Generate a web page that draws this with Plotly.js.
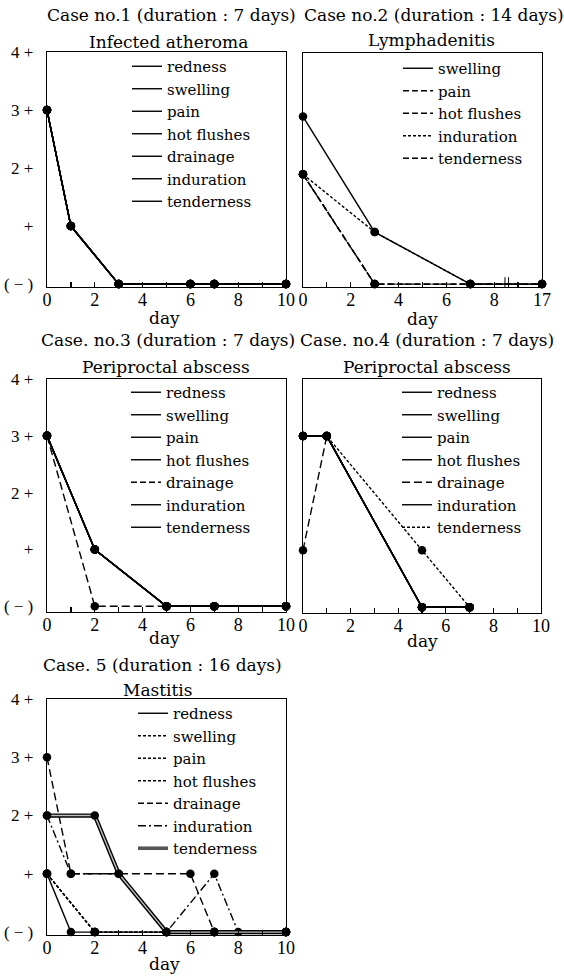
<!DOCTYPE html>
<html><head><meta charset="utf-8">
<script src="https://cdn.plot.ly/plotly-3.0.1.min.js"></script>
<style>html,body{margin:0;padding:0;background:#fff;} #chart{width:564px;height:977px;}</style>
</head><body><div id="chart"></div>
<script>
// ---------- DATA ----------
const xTickVals = [0, 2, 4, 6, 8, 10];
const xTickText = ['0', '2', '4', '6', '8', '10'];
const xTickTextCase2 = ['0', '2', '4', '6', '8', '17'];
const yTickVals = [0, 1, 2, 3, 4];
const yTickText = ['( − )', '+', '2 +', '3 +', '4 +'];

// Case 1: Infected atheroma (all symptoms share one course)
const c1Symptoms = ['redness', 'swelling', 'pain', 'hot flushes', 'drainage', 'induration', 'tenderness'];
const c1Days = [0, 1, 3, 6, 7, 10];
const c1Score = [3, 1, 0, 0, 0, 0];

// Case 2: Lymphadenitis (day 17 lies beyond an axis break after day 8)
const c2Symptoms = ['swelling', 'pain', 'hot flushes', 'induration', 'tenderness'];
const c2Days = [0, 3, 7, 17];
const c2Swelling = [2.9, 0.9, 0, 0];
const c2Pain = [1.9, 0, 0, 0];
const c2HotFlushes = [1.9, 0, 0, 0];
const c2Induration = [1.9, 0.9, 0, 0];
const c2Tenderness = [1.9, 0, 0, 0];

// Case 3: Periproctal abscess
const c3Symptoms = ['redness', 'swelling', 'pain', 'hot flushes', 'drainage', 'induration', 'tenderness'];
const c3Days = [0, 2, 5, 7, 10];
const c3Common = [3, 1, 0, 0, 0];
const c3Drainage = [3, 0, 0, 0, 0];

// Case 4: Periproctal abscess
const c4Symptoms = ['redness', 'swelling', 'pain', 'hot flushes', 'drainage', 'induration', 'tenderness'];
const c4Days = [0, 1, 5, 7];
const c4Common = [3, 3, 0, 0];
const c4Drainage = [1, 3, 0, 0];
const c4Tenderness = [3, 3, 1, 0];

// Case 5: Mastitis
const c5Symptoms = ['redness', 'swelling', 'pain', 'hot flushes', 'drainage', 'induration', 'tenderness'];
const c5RednessDays = [0, 1, 2, 5, 7, 10];
const c5Redness = [1, 0, 0, 0, 0, 0];
const c5SwellingDays = [0, 2, 5, 7, 10];
const c5Swelling = [1, 0, 0, 0, 0];
const c5PainDays = [0, 2, 5, 7, 10];
const c5Pain = [1, 0, 0, 0, 0];
const c5HotDays = [0, 2, 5, 7, 10];
const c5Hot = [1, 0, 0, 0, 0];
const c5DrainageDays = [0, 1, 6, 7, 10];
const c5Drainage = [3, 1, 1, 0, 0];
const c5IndurationDays = [0, 1, 3, 5, 7, 8, 10];
const c5Induration = [2, 1, 1, 0, 1, 0, 0];
const c5TendernessDays = [0, 2, 3, 5, 7, 10];
const c5Tenderness = [2, 2, 1, 0, 0, 0];

// ---------- STYLE ----------
const TXT = 'DejaVu Serif';
const NUM = 'Liberation Serif';
const W = 564, H = 977;
const DASH = {
  solid: 'solid', dash: '6px,3px', longdash: '8px,4px', dot: '3px,2px', dashdot: '8px,3px,2px,3px'
};
const LW = 1.4;

// axis break mapping for case 2: days after BREAK_AT are squeezed into the last slot
const BREAK_AT = 8;
function c2Pos(d) { return d <= BREAK_AT ? d : BREAK_AT + 2; }

const sfx = n => (n === 1 ? '' : String(n));
const traces = [];
function series(n, days, vals, dash, opts) {
  opts = opts || {};
  traces.push({
    x: days, y: vals, xaxis: 'x' + sfx(n), yaxis: 'y' + sfx(n),
    mode: opts.mode || 'lines+markers', cliponaxis: false, showlegend: false, hoverinfo: 'skip',
    line: {color: opts.color || '#000', width: opts.width || LW, dash: DASH[dash]},
    marker: {color: '#000', size: 8.5}
  });
}
function legendItem(n, name, dash, opts) {
  opts = opts || {};
  traces.push({
    x: [null], y: [null], xaxis: 'x' + sfx(n), yaxis: 'y' + sfx(n),
    mode: 'lines', name: name, showlegend: true, legend: 'legend' + sfx(n),
    line: {color: opts.color || '#000', width: opts.width || LW, dash: DASH[dash]}
  });
}

// Case 1
c1Symptoms.forEach(s => series(1, c1Days, c1Score, 'solid'));
c1Symptoms.forEach(s => legendItem(1, s, 'solid'));

// Case 2
const c2X = c2Days.map(c2Pos);
series(2, c2X, c2Pain, 'dash');
series(2, c2X, c2HotFlushes, 'longdash');
series(2, c2X, c2Tenderness, 'dash');
series(2, c2X, c2Induration, 'dot');
series(2, c2X, c2Swelling, 'solid');
const c2Dash = {'swelling': 'solid', 'pain': 'dash', 'hot flushes': 'dash', 'induration': 'dot', 'tenderness': 'dash'};
c2Symptoms.forEach(s => legendItem(2, s, c2Dash[s]));

// Case 3
series(3, c3Days, c3Drainage, 'longdash');
c3Symptoms.filter(s => s !== 'drainage').forEach(s => series(3, c3Days, c3Common, 'solid'));
c3Symptoms.forEach(s => legendItem(3, s, s === 'drainage' ? 'dash' : 'solid'));

// Case 4
series(4, c4Days, c4Tenderness, 'dot');
series(4, c4Days, c4Drainage, 'longdash');
c4Symptoms.filter(s => s !== 'drainage' && s !== 'tenderness').forEach(s => series(4, c4Days, c4Common, 'solid'));
c4Symptoms.forEach(s => legendItem(4, s, s === 'drainage' ? 'longdash' : (s === 'tenderness' ? 'dot' : 'solid')));

// Case 5
series(5, c5SwellingDays, c5Swelling, 'dot');
series(5, c5PainDays, c5Pain, 'dot');
series(5, c5HotDays, c5Hot, 'dot');
series(5, c5RednessDays, c5Redness, 'solid');
series(5, c5DrainageDays, c5Drainage, 'longdash');
series(5, c5IndurationDays, c5Induration, 'dashdot');
series(5, c5TendernessDays, c5Tenderness, 'solid', {mode: 'lines', width: 4.2});
series(5, c5TendernessDays, c5Tenderness, 'solid', {mode: 'lines', width: 1.4, color: '#bbb'});
series(5, c5TendernessDays, c5Tenderness, 'solid', {mode: 'markers'});
const c5Dash = {'redness': 'solid', 'swelling': 'dot', 'pain': 'dot', 'hot flushes': 'dot', 'drainage': 'dash', 'induration': 'dashdot', 'tenderness': 'solid'};
c5Symptoms.forEach(s => legendItem(5, s, c5Dash[s], s === 'tenderness' ? {width: 3.6, color: '#555'} : {}));

// ---------- LAYOUT ----------
const px = v => v / W;
const py = v => 1 - v / H;
function xAxis(n, l, r, ticktext) {
  return {
    anchor: 'y' + sfx(n),
    domain: [px(l), px(r)], range: [0, 10], showline: true, mirror: true, linecolor: '#000', linewidth: 1.3,
    showgrid: false, zeroline: false, ticks: 'inside', ticklen: 5, tickcolor: '#000', tickwidth: 1.2,
    tickmode: 'array', tickvals: xTickVals, ticktext: ticktext, ticklabelstandoff: -4,
    minor: {tickmode: 'array', tickvals: [1, 3, 5, 7, 9], ticks: 'inside', ticklen: 5, tickcolor: '#000', tickwidth: 1.2},
    tickfont: {family: NUM, size: 18, color: '#000'}, fixedrange: true
  };
}
function yAxis(n, top, bottom, lo, labels) {
  return {
    anchor: 'x' + sfx(n),
    domain: [py(bottom), py(top)], range: [lo, 4], showline: true, mirror: true, linecolor: '#000', linewidth: 1.3,
    showgrid: false, zeroline: false, ticks: '', tickmode: 'array', tickvals: yTickVals, ticktext: yTickText,
    showticklabels: labels, ticklabelstandoff: 9, tickfont: {family: NUM, size: 17, color: '#000'}, fixedrange: true
  };
}
function legendAt(x, y) {
  return {x: px(x), y: py(y), xanchor: 'left', yanchor: 'top', bgcolor: 'rgba(0,0,0,0)', borderwidth: 0,
    font: {family: TXT, size: 15, color: '#000'}, itemclick: false, itemdoubleclick: false, tracegroupgap: 0};
}
function ann(text, x, y, size) {
  return {text: text, x: px(x), y: py(y), xref: 'paper', yref: 'paper', xanchor: 'center', yanchor: 'middle',
    showarrow: false, font: {family: TXT, size: size, color: '#000'}};
}

const layout = {
  width: W, height: H, margin: {l: 0, r: 0, t: 0, b: 0}, paper_bgcolor: '#fff', plot_bgcolor: '#fff',
  showlegend: true,
  xaxis: xAxis(1, 47, 286, xTickText), yaxis: yAxis(1, 52, 287, -0.05, true),
  xaxis2: xAxis(2, 303, 542, xTickTextCase2), yaxis2: yAxis(2, 53, 287, -0.05, false),
  xaxis3: xAxis(3, 47, 286, xTickText), yaxis3: yAxis(3, 379, 612, -0.1, true),
  xaxis4: xAxis(4, 303, 541, xTickText), yaxis4: yAxis(4, 379, 613, -0.1, false),
  xaxis5: xAxis(5, 47, 286, xTickText), yaxis5: yAxis(5, 699, 935, -0.05, true),
  legend: legendAt(127, 50), legend2: legendAt(398, 52), legend3: legendAt(126, 376),
  legend4: legendAt(397, 376), legend5: legendAt(133, 697),
  annotations: [
    ann('Case no.1 (duration : 7 days)', 171, 15, 17), ann('Infected atheroma', 168, 42, 17),
    ann('Case no.2 (duration : 14 days)', 434, 15, 17), ann('Lymphadenitis', 431, 40, 17),
    ann('Case. no.3 (duration : 7 days)', 168, 340, 17), ann('Periproctal abscess', 166, 367, 17),
    ann('Case. no.4 (duration : 7 days)', 427, 340, 17), ann('Periproctal abscess', 427, 367, 17),
    ann('Case. 5 (duration : 16 days)', 162, 665, 17), ann('Mastitis', 158, 690, 17),
    ann('day', 164, 318, 17), ann('day', 422, 319, 17), ann('day', 164, 638, 17),
    ann('day', 422, 641, 17), ann('day', 164, 964, 17)
  ],
  shapes: [
    {type: 'line', xref: 'x2', yref: 'y2', x0: 8.45, x1: 8.45, y0: -0.12, y1: 0.12, line: {color: '#000', width: 1}},
    {type: 'line', xref: 'x2', yref: 'y2', x0: 8.6, x1: 8.6, y0: -0.12, y1: 0.12, line: {color: '#000', width: 1}}
  ]
};

Plotly.newPlot('chart', traces, layout, {displayModeBar: false, staticPlot: true});
</script></body></html>
